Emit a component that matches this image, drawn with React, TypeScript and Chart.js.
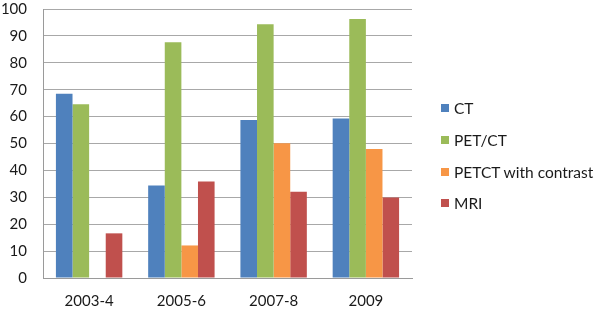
import React, { useEffect, useRef } from "react";
import { Chart, registerables } from "chart.js";

Chart.register(...registerables);

const categories = ["2003-4", "2005-6", "2007-8", "2009"];
const seriesNames = ["CT", "PET/CT", "PETCT with contrast", "MRI"];
const ctValues = [68.5, 34.4, 58.7, 59.3];
const petctValues = [64.6, 87.6, 94.3, 96.3];
const contrastValues = [0, 12.1, 50.1, 48.0];
const mriValues = [16.6, 35.9, 32.1, 29.9];
const seriesColors = ["#4F81BD", "#9BBB59", "#F79646", "#C0504D"];
const yTicks = [0, 10, 20, 30, 40, 50, 60, 70, 80, 90, 100];

const FONT = "Lato, 'Open Sans', sans-serif";

export default function App() {
  const ref = useRef<HTMLCanvasElement | null>(null);
  useEffect(() => {
    if (!ref.current) return;
    const values = [ctValues, petctValues, contrastValues, mriValues];
    const chart = new Chart(ref.current, {
      type: "bar",
      data: {
        labels: categories,
        datasets: seriesNames.map((name, i) => ({
          label: name,
          data: values[i],
          backgroundColor: seriesColors[i],
          borderWidth: 0,
          categoryPercentage: 0.72,
          barPercentage: 1.0,
        })),
      },
      options: {
        animation: false,
        responsive: false,
        maintainAspectRatio: false,
        layout: { padding: { left: 0, right: 188, top: 0, bottom: 0 } },
        plugins: { legend: { display: false }, tooltip: { enabled: false } },
        scales: {
          x: {
            grid: { display: false, drawTicks: false },
            border: { display: true, color: "#9a9a9a", width: 1 },
            ticks: { color: "#1a1a1a", padding: 14, font: { family: FONT, size: 15 } },
            afterFit: (scale: any) => {
              scale.height = 32;
              scale.paddingLeft = 0;
              scale.paddingRight = 0;
            },
          },
          y: {
            min: 0,
            max: 100,
            afterBuildTicks: (scale: any) => {
              scale.ticks = yTicks.map((v) => ({ value: v }));
            },
            grid: { color: "#a8a8a8", drawTicks: false, lineWidth: 1 },
            border: { display: true, color: "#9a9a9a", width: 1 },
            ticks: { color: "#1a1a1a", padding: 16, font: { family: FONT, size: 15 } },
            afterFit: (scale: any) => {
              scale.width = 43;
              scale.paddingTop = 9;
              scale.paddingBottom = 0;
            },
          },
        },
      },
    });
    return () => chart.destroy();
  }, []);

  const legendTops = [108, 140, 172, 203];
  return (
    <div style={{ position: "absolute", left: 0, top: 0, width: 600, height: 310, background: "#fff" }}>
      <canvas ref={ref} width={600} height={310} style={{ width: 600, height: 310, display: "block" }} />
      {seriesNames.map((name, i) => (
        <div
          key={name}
          style={{
            position: "absolute",
            left: 441,
            top: legendTops[i] - 10,
            height: 20,
            display: "flex",
            alignItems: "center",
            fontFamily: FONT,
            fontSize: 15.5,
            color: "#1a1a1a",
            whiteSpace: "nowrap",
          }}
        >
          <span style={{ display: "inline-block", width: 8, height: 8, background: seriesColors[i], marginRight: 5 }} />
          <span>{name}</span>
        </div>
      ))}
    </div>
  );
}
